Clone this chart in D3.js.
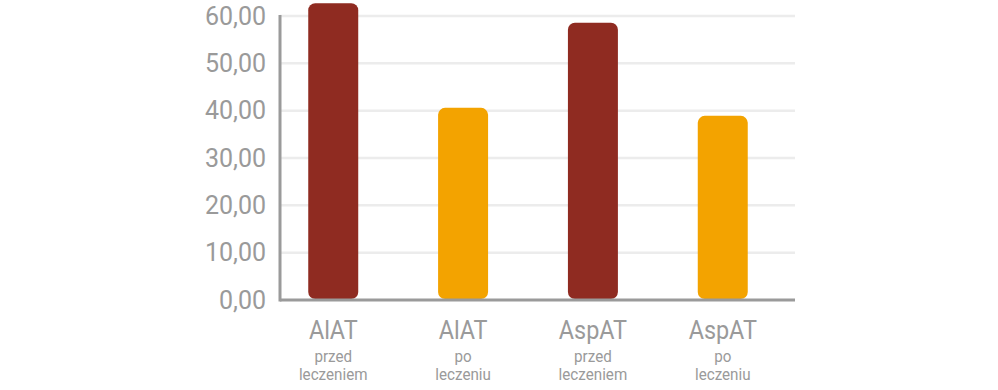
<!DOCTYPE html>
<html>
<head>
<meta charset="utf-8">
<script src="https://cdn.jsdelivr.net/npm/d3@7"></script>
<style>
  body { margin: 0; background: #fff; }
  text { font-family: Roboto, "Noto Sans", sans-serif; }
</style>
</head>
<body>
<div id="chart"></div>
<script>
const categories = ["AlAT", "AlAT", "AspAT", "AspAT"];
const subLabels = [["przed", "leczeniem"], ["po", "leczeniu"], ["przed", "leczeniem"], ["po", "leczeniu"]];
const values = [62.7, 40.6, 58.6, 38.9];
const phase = ["przed", "po", "przed", "po"];
const yTicks = [0, 10, 20, 30, 40, 50, 60];

const W = 998, H = 390;
const margin = {top: 16, right: 203, bottom: 90, left: 280};
const width = W - margin.left - margin.right,
      height = 300 - margin.top;

const svg = d3.select("#chart")
  .append("svg")
  .attr("width", W)
  .attr("height", H)
  .append("g")
  .attr("transform", `translate(${margin.left},${margin.top})`);

const color = d3.scaleOrdinal()
  .domain(["przed", "po"])
  .range(["#8F2B21", "#F3A300"]);

const x = d3.scaleBand()
  .domain(d3.range(values.length))
  .range([-12, 508])
  .paddingInner(0.615)
  .paddingOuter(0.31);

const y = d3.scaleLinear()
  .domain([0, 60])
  .range([height, 0]);

// grid
svg.append("g")
  .selectAll("line")
  .data(yTicks.filter(d => d > 0))
  .enter()
  .append("line")
  .attr("x1", 0)
  .attr("x2", width)
  .attr("y1", d => y(d))
  .attr("y2", d => y(d))
  .attr("stroke", "#ececec")
  .attr("stroke-width", 2.5);

// y labels
const fmt = d => d3.format(".2f")(d).replace(".", ",");
svg.append("g")
  .selectAll("text")
  .data(yTicks)
  .enter()
  .append("text")
  .attr("x", -14)
  .attr("y", d => y(d))
  .attr("dy", "0.34em")
  .attr("text-anchor", "end")
  .attr("fill", "#9a9a9a")
  .style("font-size", "25px")
  .text(fmt);

// bars
svg.selectAll(".bar")
  .data(values)
  .enter()
  .append("rect")
  .attr("class", "bar")
  .attr("x", (d, i) => x(i))
  .attr("y", d => y(d))
  .attr("width", x.bandwidth())
  .attr("height", d => y(0) - y(d) - 1)
  .attr("rx", 7)
  .attr("fill", (d, i) => color(phase[i]));

// axes lines
svg.append("line")
  .attr("x1", 0).attr("x2", 0)
  .attr("y1", -1).attr("y2", height + 1.5)
  .attr("stroke", "#9a9a9a").attr("stroke-width", 3);
svg.append("line")
  .attr("x1", 0).attr("x2", width)
  .attr("y1", height).attr("y2", height)
  .attr("stroke", "#9a9a9a").attr("stroke-width", 3);

// x labels
const lab = svg.append("g")
  .selectAll("g")
  .data(categories)
  .enter()
  .append("g")
  .attr("transform", (d, i) => `translate(${x(i) + x.bandwidth() / 2},${height})`);

lab.append("text")
  .attr("y", 39)
  .attr("text-anchor", "middle")
  .attr("fill", "#9a9a9a")
  .attr("transform", "scale(0.9,1)")
  .style("font-size", "26px")
  .text(d => d);

lab.each(function(d, i) {
  const g = d3.select(this);
  subLabels[i].forEach((s, k) => {
    g.append("text")
      .attr("y", 62 + k * 18)
      .attr("text-anchor", "middle")
      .attr("fill", "#9a9a9a")
      .attr("transform", "scale(0.95,1)")
      .style("font-size", "16px")
      .text(s);
  });
});
</script>
</body>
</html>
